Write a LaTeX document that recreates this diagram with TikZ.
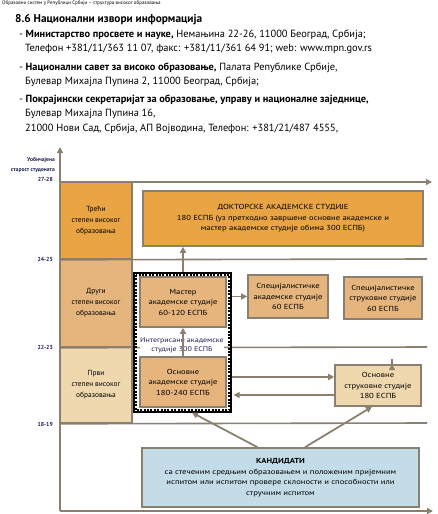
\documentclass[tikz,border=0pt]{standalone}
\usepackage{fontspec}
\setmainfont{PT Sans}
\newfontfamily\boxfont[FakeStretch=1.18]{PT Sans}
\usetikzlibrary{arrows.meta,calc}
\definecolor{axisgray}{RGB}{139,128,112}
\definecolor{docorange}{RGB}{233,164,68}
\definecolor{midorange}{RGB}{229,181,125}
\definecolor{creamfill}{RGB}{240,216,174}
\definecolor{candblue}{RGB}{196,220,232}
\definecolor{agenavy}{RGB}{30,30,80}
\newcommand{\dtxt}{\boxfont\fontsize{7.3}{10.5}\selectfont}
\newcommand{\htxt}{\fontsize{10.4}{12}\selectfont}
\tikzset{
  hline/.style={anchor=base west, inner sep=0pt, font=\htxt},
  cell/.style={draw=axisgray, line width=1.6pt, align=center, inner sep=0pt, font=\fontsize{7.4}{11}\selectfont},
  box/.style={draw=axisgray, line width=1.6pt, align=center, inner sep=0pt, font=\dtxt},
  axisline/.style={draw=axisgray, line width=1.6pt},
  arr/.style={draw=axisgray, line width=1.8pt, -{Triangle[length=6pt,width=6pt]}},
  agelabel/.style={anchor=east, inner sep=0pt, font=\fontsize{5.8}{6}\selectfont\bfseries, text=agenavy},
}
\begin{document}
\begin{tikzpicture}[x=1pt,y=-1pt]
\useasboundingbox (0,0) rectangle (437,514);
% header
\node[anchor=base west, inner sep=0pt, font=\fontsize{5}{6}\selectfont] (cut) at (2,5) {Образовни систем у Републици Србији -- структура високог образовања};
\node[anchor=base west, inner sep=0pt, font=\fontsize{11.3}{13}\selectfont\bfseries] (title) at (15,22) {8.6 Национални извори информација};
\node[hline] (b1a) at (19,37) {- \textbf{Министарство просвете и науке,} Немањина 22-26, 11000 Београд, Србија;};
\node[hline] (b1b) at (25,51.5) {Телефон +381/11/363 11 07, факс: +381/11/361 64 91; web: www.mpn.gov.rs};
\node[hline] (b2a) at (19,70.5) {- \textbf{Национални савет за високо образовање,} Палата Републике Србије,};
\node[hline] (b2b) at (25,84.5) {Булевар Михајла Пупина 2, 11000 Београд, Србија;};
\node[hline] (b3a) at (19,102.5) {- \textbf{Покрајински секретаријат за образовање, управу и националне заједнице,}};
\node[hline] (b3b) at (25,116.5) {Булевар Михајла Пупина 16,};
\node[hline] (b3c) at (25,131.5) {21000 Нови Сад, Србија, АП Војводина, Телефон: +381/21/487 4555,};

% axis labels
\node[agelabel, align=right, font=\fontsize{5.6}{9.5}\selectfont\bfseries] (ylab) at (55,165) {Уобичајена\\старост студената};
\node[agelabel] (a27) at (53,179) {27-28};
\node[agelabel] (a24) at (53,259) {24-25};
\node[agelabel] (a22) at (53,347) {22-23};
\node[agelabel] (a18) at (53,424) {18-19};

% left column
\node[cell, fill=docorange, minimum width=72, minimum height=77] (c3) at (96,220.5) {Трећи\\степен високог\\образовања};
\node[cell, fill=midorange, minimum width=72, minimum height=88] (c2) at (96,303) {Други\\степен високог\\образовања};
\node[cell, fill=creamfill, minimum width=72, minimum height=76] (c1) at (96,385) {Први\\степен високог\\образовања};

% grid lines
\coordinate (o) at (60,511);
\coordinate (ytop) at (60,147);
\coordinate (xend) at (433,511);
\coordinate (t1) at (60,182);
\coordinate (t2) at (432,182);
\coordinate (l24) at (427,259);
\coordinate (l22) at (427,347);
\coordinate (l18) at (427,423);
\draw[axisline, -{Triangle[length=6pt,width=6pt]}] (o) -- (ytop);
\draw[axisline, -{Triangle[length=6pt,width=6pt]}] (o) -- (xend);
\draw[axisline, -{Triangle[length=6pt,width=6pt]}] (t1) -- (t2);
\draw[axisline] (c3.south west) -- (l24);
\draw[axisline] (c2.south west) -- (l22);
\draw[axisline] (c1.south west) -- (l18);

% doctoral
\node[box, fill=docorange, minimum width=280, minimum height=55] (doc) at (283,218.5)
  {ДОКТОРСКЕ АКАДЕМСКЕ СТУДИЈЕ\\180 ЕСПБ (уз претходно завршене основне академске и\\мастер академске студије обима 300 ЕСПБ)};

% frame
\node[draw=black, line width=1.2pt, minimum width=97, minimum height=139, inner sep=0pt] (frame) at (182.5,342.5) {};
\draw[black, line width=1.6pt, dash pattern=on 2pt off 1.4pt] ($(frame.north west)+(2.5,2.5)$) rectangle ($(frame.south east)+(-2.5,-2.5)$);

% integrated label
\node[fill=white, inner sep=0.6pt, align=center, font=\boxfont\fontsize{6.8}{9}\selectfont, text=agenavy] (integ) at (182,345) {Интегрисане академске\\студије 300 ЕСПБ};

\node[box, fill=midorange, minimum width=86, minimum height=50] (master) at (183,302) {Мастер\\академске студије\\60-120 ЕСПБ};
\node[box, fill=midorange, minimum width=86, minimum height=50] (basicA) at (183,382) {Основне\\академске студије\\180-240 ЕСПБ};
\node[box, fill=midorange, minimum width=80, minimum height=43] (specA) at (288,296.5) {Специјалистичке\\академске студије\\60 ЕСПБ};
\node[box, fill=midorange, minimum width=78, minimum height=42] (specP) at (383,298) {Специјалистичке\\струковне студије\\60 ЕСПБ};
\node[box, fill=creamfill, minimum width=86, minimum height=41] (basicP) at (378,385.5) {Основне\\струковне студије\\180 ЕСПБ};
\node[box, fill=candblue, minimum width=277, minimum height=59] (cand) at (280.5,477.5)
  {\textbf{КАНДИДАТИ}\\са стеченим средњим образовањем и положеним пријемним\\испитом или испитом провере склоности и способности или\\стручним испитом};

% arrows
\draw[arr] (frame.north -| master.north) -- (master.north |- doc.south);
\draw[arr] (basicA.north) -- (master.south);
\draw[arr] (frame.east |- specA.west) -- (specA.west);
\draw[arr] ($(basicP.north)+(14,0)$) -- ($(basicP.north)+(14,0)$ |- specP.south);
\coordinate (pin) at ($(basicP.west)+(0,-8.5)$);
\coordinate (pout) at ($(basicP.west)+(0,9.5)$);
\draw[arr] (frame.east |- pin) -- (pin);
\draw[arr] (pout) -- ($(frame.east |- pout)+(2,0)$);
\draw[arr] ($(cand.north)+(-23,0)$) -- ($(frame.south)+(9.5,0)$);
\draw[arr] ($(cand.north)+(24.5,0)$) -- ($(basicP.south)+(-6,0)$);
\end{tikzpicture}
\end{document}
